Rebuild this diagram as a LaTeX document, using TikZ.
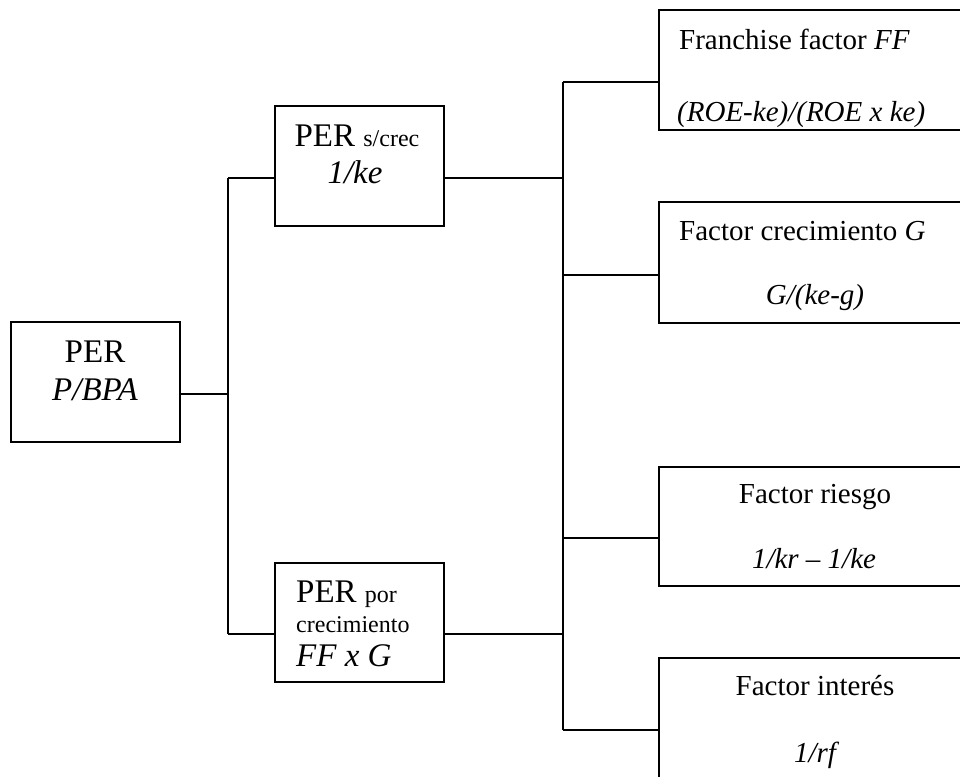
\documentclass[tikz,border=0pt]{standalone}
\usepackage{fontspec}
\setmainfont{Liberation Serif}
\newcommand{\fbig}{\fontsize{33}{38}\selectfont}
\newcommand{\fmed}{\fontsize{29}{34}\selectfont}
\newcommand{\fsml}{\fontsize{24}{28}\selectfont}
\begin{document}
\begin{tikzpicture}[x=1pt,y=-1pt,
  boxn/.style={draw=black, line width=1.3pt, rectangle, inner sep=0pt, fill=white},
  wire/.style={draw=black, line width=1.2pt},
  txt/.style={inner sep=0pt, text=black}]
\useasboundingbox (0,0) rectangle (960,776);
\clip (0,0) rectangle (960,776);
% boxes
\node[boxn, minimum width=169pt, minimum height=120pt] (per) at (95.5,382) {};
\node[boxn, minimum width=169pt, minimum height=120pt] (sc) at (359.5,166) {};
\node[boxn, minimum width=169pt, minimum height=119pt] (pc) at (359.5,622.5) {};
\node[boxn, minimum width=360pt, minimum height=120pt] (ff) at (839,70) {};
\node[boxn, minimum width=360pt, minimum height=121pt] (gf) at (839,262.5) {};
\node[boxn, minimum width=360pt, minimum height=119pt] (rf) at (839,526.5) {};
\node[boxn, minimum width=360pt, minimum height=140pt] (if) at (839,728) {};
% junction coordinates
\coordinate (j0) at (228,394);
\coordinate (j0t) at (228,178);
\coordinate (j0b) at (228,634);
\coordinate (j1t) at (563,82);
\coordinate (j1a) at (563,178);
\coordinate (j1g) at (563,275);
\coordinate (j1r) at (563,538);
\coordinate (j1b) at (563,634);
\coordinate (j1i) at (563,730);
% connectors
\draw[wire] (per.east |- j0) -- (j0);
\draw[wire] (j0t) -- (j0b);
\draw[wire] (j0t) -- (sc.west |- j0t);
\draw[wire] (j0b) -- (pc.west |- j0b);
\draw[wire] (sc.east |- j1a) -- (j1a);
\draw[wire] (pc.east |- j1b) -- (j1b);
\draw[wire] (j1t) -- (j1i);
\draw[wire] (j1t) -- (ff.west |- j1t);
\draw[wire] (j1g) -- (gf.west |- j1g);
\draw[wire] (j1r) -- (rf.west |- j1r);
\draw[wire] (j1i) -- (if.west |- j1i);
% texts
\node[txt, anchor=base] (t1) at (95,362) {\fbig PER};
\node[txt, anchor=base] (t2) at (95,400) {\fbig\itshape P/BPA};
\node[txt, anchor=base] (t3) at (357,146) {\fbig PER {\fsml s/crec}};
\node[txt, anchor=base] (t4) at (355,183) {\fbig\itshape 1/ke};
\node[txt, anchor=base west] (t5) at (296,602) {\fbig PER {\fsml por}};
\node[txt, anchor=base west] (t6) at (296,632) {\fsml crecimiento};
\node[txt, anchor=base west] (t7) at (296,666) {\fbig\itshape FF x G};
\node[txt, anchor=base west] (t8) at (679,49) {\fmed Franchise factor \textit{FF}};
\node[txt, anchor=base west] (t9) at (677,121) {\fmed\itshape (ROE-ke)/(ROE x ke)};
\node[txt, anchor=base west] (t10) at (679,240) {\fmed Factor crecimiento \textit{G}};
\node[txt, anchor=base] (t11) at (815,304) {\fmed\itshape G/(ke-g)};
\node[txt, anchor=base] (t12) at (815,503) {\fmed Factor riesgo};
\node[txt, anchor=base] (t13) at (814,568) {\fmed\itshape 1/kr -- 1/ke};
\node[txt, anchor=base] (t14) at (815,695) {\fmed Factor interés};
\node[txt, anchor=base] (t15) at (815,762) {\fmed\itshape 1/rf};
\end{tikzpicture}
\end{document}
